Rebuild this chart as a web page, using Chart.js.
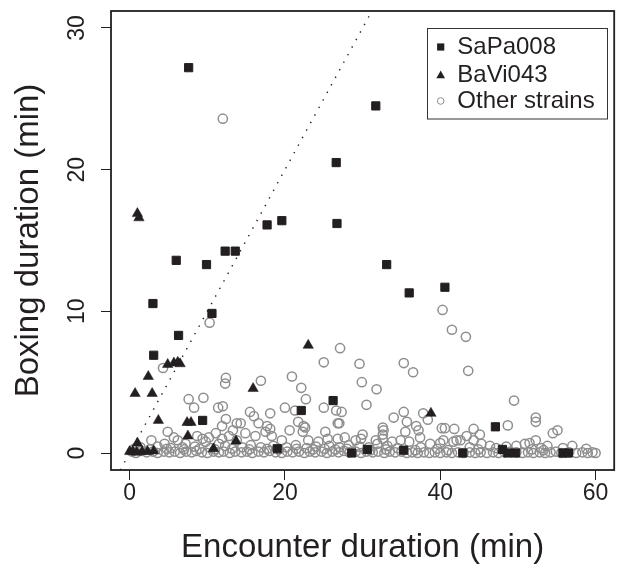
<!DOCTYPE html>
<html>
<head>
<meta charset="utf-8">
<script src="https://cdn.jsdelivr.net/npm/chart.js@4/dist/chart.umd.min.js"></script>
<style>
  html, body { margin: 0; padding: 0; background: #ffffff; }
  canvas { display: block; }
</style>
</head>
<body>
<canvas id="c" width="621" height="564"></canvas>
<script>
// ---------- data ----------
const xTicks = [0, 20, 40, 60];
const yTicks = [0, 10, 20, 30];
const xRange = [-2.4, 62.4];
const yRange = [-1.2, 31.2];
const refLineX = [-1.2, 31.2];
const refLineY = [-1.2, 31.2];
const seriesNames = ['SaPa008', 'BaVi043', 'Other strains'];

const sapaX = [7.6, 31.7, 26.6, 17.7, 19.6, 26.7, 6.0, 9.9, 12.3, 13.6, 33.1, 36.0, 40.6, 3.0, 10.6, 6.3, 3.1, 9.4, 22.1, 26.2, 47.1, 19.0, 28.6, 30.6, 35.3, 42.9, 48.0, 48.7, 49.7, 55.8, 56.5];
const sapaY = [27.2, 24.5, 20.5, 16.1, 16.4, 16.2, 13.6, 13.3, 14.25, 14.25, 13.3, 11.3, 11.7, 10.55, 9.85, 8.3, 6.9, 2.3, 3.0, 3.7, 1.85, 0.3, 0.0, 0.25, 0.2, 0.0, 0.25, 0.0, 0.0, 0.0, 0.0];

const baviX = [1.0, 1.2, 4.9, 5.7, 6.2, 6.5, 2.4, 0.7, 2.9, 3.7, 7.4, 7.9, 7.5, 1.0, 0.0, 0.4, 0.9, 1.6, 2.3, 3.1, 10.8, 13.7, 15.9, 23.0, 38.8];
const baviY = [16.9, 16.6, 6.25, 6.35, 6.4, 6.3, 5.4, 4.2, 4.2, 2.3, 2.15, 2.15, 1.2, 0.7, 0.1, 0.1, 0.05, 0.1, 0.1, 0.15, 0.3, 0.85, 4.55, 7.6, 2.8];

const otherX = [
  12.0, 10.3, 40.3, 41.5, 43.3, 27.1, 25.0, 29.6, 35.3, 36.5, 43.6, 4.3, 12.4, 12.3, 16.9, 20.9, 22.1, 29.9, 31.8, 22.7,
  7.6, 9.5, 8.3, 11.4, 12.0, 20.0, 21.3, 25.0, 26.6, 27.3, 30.5, 49.5, 15.5, 16.0, 18.1, 35.3, 34.0, 37.8, 38.4, 52.3, 52.3,
  12.4, 11.9, 13.8, 13.3, 2.8, 4.9, 5.7, 6.2, 8.7, 9.4, 10.2, 11.1, 11.9, 12.8, 13.8,
  14.3, 16.6, 17.7, 18.1, 21.7, 22.4, 22.6, 22.3, 26.8, 27.0, 20.6, 25.2, 14.9, 16.2, 17.5, 18.3,
  19.6, 23.0, 24.3, 25.5, 26.8, 27.7, 29.1, 30.0, 29.8,
  35.7, 32.6, 32.7, 32.6, 32.6, 36.9, 37.2, 37.4, 35.5, 40.2, 40.6, 41.8, 44.3, 45.1, 43.4, 42.6, 42.1, 40.4, 40.0, 44.3,
  31.7, 31.9, 33.8, 34.9, 36.0, 33.2, 38.7, 41.7, 45.3, 46.4,
  48.7, 54.5, 55.1, 52.3, 53.8, 57.0, 48.5, 49.8, 50.9, 51.5, 53.0, 55.8,
  4.5, 7.2, 9.8, 11.5, 12.3,
  1.4, 3.6, 5.3, 6.8, 8.4, 10.4, 14.5, 15.6, 16.9, 18.5, 20.2, 21.4, 22.8, 24.0, 25.7, 27.0, 28.2, 29.6, 30.8, 34.5, 37.5, 39.6, 43.8, 47.2, 58.8,
  0.6, 2.6, 4.8, 7.0, 9.0, 11.0, 13.2, 15.4, 17.7, 19.2, 21.5, 23.6, 25.1, 26.5, 28.0, 31.0, 33.0, 36.8, 41.0, 44.9, 51.8, 53.3,
  0.3, 0.8, 1.5, 2.2, 3.0, 3.6, 4.4, 5.1, 5.8, 6.5, 7.3, 8.0, 8.6, 9.3, 10.0, 10.8, 11.5, 12.1, 12.9, 13.6,
  14.4, 15.1, 15.8, 16.6, 17.3, 18.0, 18.8, 19.6, 20.3, 21.0, 21.8, 22.5, 23.2, 23.9, 24.7, 25.4, 26.1, 26.9, 27.6, 28.3,
  29.1, 29.8, 30.5, 31.3, 32.0, 32.8, 33.5, 34.2, 35.0, 35.7, 36.4, 37.1, 37.9, 38.6, 39.3, 40.0, 40.8, 41.5, 42.3, 43.0,
  43.8, 44.5, 45.2, 46.0, 46.8, 47.5, 48.3, 49.0, 49.8, 50.6, 51.3, 52.0, 52.8, 53.5, 54.2, 54.9, 55.6, 56.6, 57.5, 58.3,
  59.0, 59.6, 60.0
];
const otherY = [
  23.6, 9.2, 10.1, 8.7, 8.2, 7.4, 6.4, 6.3, 6.35, 5.7, 5.8, 6.0, 5.3, 4.9, 5.1, 5.4, 4.6, 5.0, 4.5, 3.8,
  3.8, 3.9, 3.2, 3.2, 3.3, 3.2, 3.0, 3.2, 3.0, 2.9, 3.4, 3.7, 2.9, 2.6, 2.8, 2.9, 2.5, 2.8, 2.35, 2.5, 2.2,
  2.4, 1.9, 2.1, 1.6, 0.9, 1.5, 1.1, 0.9, 1.2, 1.0, 1.1, 1.4, 1.0, 1.2, 0.9,
  2.1, 2.1, 1.9, 1.7, 2.2, 1.9, 1.8, 1.5, 2.1, 2.1, 1.6, 1.5, 1.4, 1.2, 1.5, 1.2,
  0.9, 0.9, 0.8, 1.0, 1.0, 1.1, 0.9, 1.3, 1.0,
  2.2, 1.8, 1.6, 1.3, 1.0, 1.9, 1.6, 1.1, 1.5, 1.75, 1.75, 1.7, 1.7, 1.3, 1.2, 0.9, 0.9, 0.9, 0.7, 0.9,
  0.9, 0.65, 0.8, 0.9, 0.8, 0.5, 0.65, 0.8, 0.65, 0.5,
  1.95, 1.4, 1.6, 0.9, 0.5, 0.5, 0.45, 0.5, 0.65, 0.7, 0.35, 0.35,
  0.65, 0.65, 0.8, 0.65, 0.5,
  0.4, 0.45, 0.35, 0.4, 0.45, 0.35, 0.4, 0.55, 0.4, 0.5, 0.4, 0.55, 0.35, 0.45, 0.5, 0.4, 0.55, 0.45, 0.4, 0.35, 0.4, 0.3, 0.4, 0.35, 0.3,
  0.3, 0.25, 0.3, 0.25, 0.3, 0.25, 0.3, 0.25, 0.3, 0.25, 0.3, 0.25, 0.3, 0.25, 0.3, 0.2, 0.25, 0.2, 0.2, 0.25, 0.25, 0.2,
  0.1, 0.0, 0.15, 0.05, 0.1, 0.0, 0.1, 0.05, 0.1, 0.0, 0.1, 0.05, 0.15, 0.05, 0.0, 0.1, 0.05, 0.1, 0.0, 0.1,
  0.05, 0.1, 0.0, 0.1, 0.05, 0.15, 0.05, 0.0, 0.1, 0.05, 0.1, 0.0, 0.1, 0.05, 0.1, 0.0, 0.1, 0.05, 0.15, 0.05,
  0.1, 0.0, 0.1, 0.05, 0.1, 0.0, 0.1, 0.05, 0.1, 0.0, 0.05, 0.0, 0.05, 0.0, 0.05, 0.0, 0.05, 0.0, 0.05, 0.0,
  0.05, 0.0, 0.05, 0.0, 0.05, 0.0, 0.05, 0.1, 0.05, 0.0, 0.05, 0.0, 0.05, 0.0, 0.05, 0.1, 0.0, 0.05, 0.0, 0.05,
  0.0, 0.05, 0.0
];

// ---------- styles ----------
const DARK = '#231f20';
const GREY = '#8e8e8e';
const FONT = "'Liberation Sans', Arial, Helvetica, sans-serif";

const toPts = (xs, ys) => xs.map((x, i) => ({ x: x, y: ys[i] }));

const boxPlugin = {
  id: 'boxAndLegend',
  afterDatasetsDraw(chart) {
    const { ctx, chartArea: a } = chart;
    ctx.save();
    ctx.strokeStyle = DARK;
    ctx.lineWidth = 1.8;
    ctx.strokeRect(a.left, a.top, a.right - a.left, a.bottom - a.top);
    ctx.restore();
  },
  afterDraw(chart) {
    const ctx = chart.ctx;
    ctx.save();
    // legend box
    ctx.fillStyle = '#ffffff';
    ctx.fillRect(427.5, 28.5, 180, 90.5);
    ctx.strokeStyle = '#333333';
    ctx.lineWidth = 1;
    ctx.strokeRect(427.5, 28.5, 180, 90.5);
    const mx = 440.7, tx = 457.3;
    const rows = [47, 75, 101];
    // square
    ctx.fillStyle = DARK;
    ctx.fillRect(mx - 3.6, rows[0] - 3.6, 7.2, 7.2);
    // triangle
    ctx.beginPath();
    ctx.moveTo(mx, rows[1] - 4.6);
    ctx.lineTo(mx + 4.3, rows[1] + 3.2);
    ctx.lineTo(mx - 4.3, rows[1] + 3.2);
    ctx.closePath();
    ctx.fill();
    // circle
    ctx.beginPath();
    ctx.arc(mx, rows[2], 3.3, 0, Math.PI * 2);
    ctx.strokeStyle = GREY;
    ctx.lineWidth = 1;
    ctx.stroke();
    // text
    ctx.fillStyle = DARK;
    ctx.font = '24px ' + FONT;
    ctx.textBaseline = 'middle';
    ctx.textAlign = 'left';
    seriesNames.forEach((n, i) => ctx.fillText(n, tx, rows[i]));
    ctx.restore();
  }
};

Chart.defaults.font.family = FONT;
Chart.defaults.color = DARK;

new Chart(document.getElementById('c'), {
  type: 'scatter',
  data: {
    datasets: [
      {
        label: seriesNames[0],
        data: toPts(sapaX, sapaY),
        pointStyle: 'rect',
        pointRadius: 5.8,
        backgroundColor: DARK,
        borderColor: DARK,
        borderWidth: 1
      },
      {
        label: seriesNames[1],
        data: toPts(baviX, baviY),
        pointStyle: 'triangle',
        pointRadius: 6,
        backgroundColor: DARK,
        borderColor: DARK,
        borderWidth: 0.5
      },
      {
        label: seriesNames[2],
        data: toPts(otherX, otherY),
        pointStyle: 'circle',
        pointRadius: 4.6,
        backgroundColor: 'rgba(0,0,0,0)',
        borderColor: GREY,
        borderWidth: 1.5
      },
      {
        type: 'line',
        label: 'y = x',
        data: toPts(refLineX, refLineY),
        showLine: true,
        pointRadius: 0,
        borderColor: DARK,
        borderWidth: 1.4,
        borderDash: [1.4, 7.2],
        borderCapStyle: 'butt',
        fill: false
      }
    ]
  },
  options: {
    responsive: false,
    devicePixelRatio: 1,
    animation: false,
    events: [],
    layout: { padding: { left: 0, right: 2, top: 11, bottom: 0 } },
    plugins: { legend: { display: false }, tooltip: { enabled: false } },
    scales: {
      x: {
        type: 'linear',
        position: 'bottom',
        min: xRange[0],
        max: xRange[1],
        afterBuildTicks: s => { s.ticks = xTicks.map(v => ({ value: v })); },
        afterFit: s => { s.height = 94; s.paddingLeft = 0; s.paddingRight = 0; },
        ticks: { font: { size: 23, lineHeight: 1.2 }, color: DARK, padding: 0, maxRotation: 0, minRotation: 0, autoSkip: false },
        grid: { display: true, drawOnChartArea: false, drawTicks: true, tickLength: 10, color: DARK, lineWidth: 1 },
        border: { display: false },
        title: { display: true, text: 'Encounter duration (min)', color: DARK, font: { size: 33, lineHeight: 1 }, padding: { top: 0, bottom: 0 } }
      },
      y: {
        type: 'linear',
        position: 'left',
        min: yRange[0],
        max: yRange[1],
        afterBuildTicks: s => { s.ticks = yTicks.map(v => ({ value: v })); },
        afterFit: s => { s.width = 111; s.paddingTop = 0; s.paddingBottom = 0; },
        ticks: { font: { size: 23, lineHeight: 1.2 }, color: DARK, padding: 10.5, minRotation: 90, maxRotation: 90, crossAlign: 'center', autoSkip: false },
        grid: { display: true, drawOnChartArea: false, drawTicks: true, tickLength: 10, color: DARK, lineWidth: 1 },
        border: { display: false },
        title: { display: true, text: 'Boxing duration (min)', color: DARK, font: { size: 33, lineHeight: 1 }, padding: { top: 12.5, bottom: 0 } }
      }
    }
  },
  plugins: [boxPlugin]
});
</script>
</body>
</html>
